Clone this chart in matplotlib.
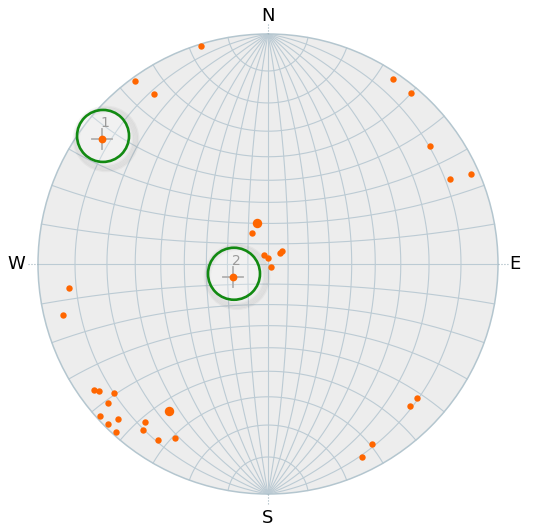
import numpy as np
import matplotlib
matplotlib.use("Agg")
import matplotlib.pyplot as plt
from matplotlib.patches import Circle

# Poles (lower hemisphere, equal-angle / Wulff net)
TREND = [343, 324, 326, 34, 40, 54, 65, 66,
         333, 336, 0, 135, 47, 47,
         263, 256,
         234, 233, 230, 229, 228, 224, 225, 222, 218, 217, 212, 208,
         132, 135, 150, 154]
PLUNGE = [0.6, 0.8, 6.7, 1.8, 1.8, 7.9, 7.8, 1.9,
          72.7, 85.1, 87.0, 87.9, 81.9, 80.5,
          7.9, 4.9,
          3.9, 4.8, 7.7, 4.7, 0.9, 3.7, 0.9, 0.9, 7.9, 5.8, 5.8, 8.7,
          7.8, 7.8, 5.7, 4.0]

# bigger symbols
BIG_TREND = [345, 214]
BIG_PLUNGE = [69.1, 14.8]

# mean / cluster centres
MEAN_TREND = [307, 250]
MEAN_PLUNGE = [5.8, 71.6]
MEAN_LABELS = ["1", "2"]

# ── layout in pixels ──
W, H = 538, 532
CX, CY, R = 268, 264, 230

GRID = "#bccbd4"
ORANGE = "#ff6600"


def proj(x, y, z):
    """equal-angle projection of a lower hemisphere unit vector -> pixels"""
    x, y, z = np.asarray(x), np.asarray(y), np.asarray(z)
    px = CX + R * x / (1 + z)
    py = CY - R * y / (1 + z)
    return px, py


def proj_tp(trend, plunge):
    t = np.radians(trend)
    p = np.radians(plunge)
    return proj(np.cos(p) * np.sin(t), np.cos(p) * np.cos(t), np.sin(p))


fig = plt.figure(figsize=(W / 100, H / 100), dpi=100)
ax = fig.add_axes([0, 0, 1, 1])
ax.set_xlim(0, W)
ax.set_ylim(H, 0)
ax.axis("off")

# net background
ax.add_patch(Circle((CX, CY), R, facecolor="#ededed", edgecolor="none", zorder=0))

# great circles through N-S
phi = np.radians(np.linspace(-90, 90, 361))
for lam in range(-80, 90, 10):
    l = np.radians(lam)
    px, py = proj(np.cos(phi) * np.sin(l), np.sin(phi), np.cos(phi) * np.cos(l))
    ax.plot(px, py, color=GRID, lw=0.8, zorder=1)

# small circles about N-S axis
lam = np.radians(np.linspace(-90, 90, 361))
for lat in range(-80, 90, 10):
    f = np.radians(lat)
    px, py = proj(np.cos(f) * np.sin(lam), np.full_like(lam, np.sin(f)), np.cos(f) * np.cos(lam))
    ax.plot(px, py, color=GRID, lw=0.8, zorder=1)

# primitive
ax.add_patch(Circle((CX, CY), R, facecolor="none", edgecolor="#b4c6cf", lw=1.1, zorder=2))

# compass labels + dotted ticks
ax.plot([CX, CX], [CY - R - 10, CY - R], color="#9fb3bd", lw=0.8, ls=":", zorder=2)
ax.plot([CX, CX], [CY + R, CY + R + 10], color="#9fb3bd", lw=0.8, ls=":", zorder=2)
ax.plot([CX - R - 10, CX - R], [CY, CY], color="#9fb3bd", lw=0.8, ls=":", zorder=2)
ax.plot([CX + R, CX + R + 10], [CY, CY], color="#9fb3bd", lw=0.8, ls=":", zorder=2)
for lab, x, y in [("N", CX, CY - R - 18), ("S", CX, CY + R + 24),
                  ("W", CX - R - 22, CY), ("E", CX + R + 17, CY)]:
    ax.text(x, y, lab, ha="center", va="center", fontsize=13, color="black")

# data points
px, py = proj_tp(TREND, PLUNGE)
ax.plot(px, py, "o", color=ORANGE, ms=4.6, mec="none", zorder=5)
bx, by = proj_tp(BIG_TREND, BIG_PLUNGE)
ax.plot(bx, by, "o", color=ORANGE, ms=6.8, mec="none", zorder=5)

# mean points with crosshair, ring and label
mx, my = proj_tp(MEAN_TREND, MEAN_PLUNGE)
for x, y, lab in zip(mx, my, MEAN_LABELS):
    ccx, ccy = x + 1, y - 3
    for k, a in enumerate([0.05, 0.05, 0.05, 0.06, 0.06]):
        ax.add_patch(Circle((ccx + 3, ccy + 3), 27 + k * 1.3, facecolor="none",
                            edgecolor="#555555", lw=1.6, alpha=a, zorder=6))
    ax.add_patch(Circle((ccx, ccy), 26, facecolor="white", alpha=0.25,
                        edgecolor="none", zorder=6))
    ax.add_patch(Circle((ccx, ccy), 26, facecolor="none", edgecolor="#128a12",
                        lw=1.9, zorder=8))
    ax.plot([x - 10, x + 10], [y, y], color="#b0b0b0", lw=1.3, zorder=7)
    ax.plot([x, x], [y - 10, y + 10], color="#b0b0b0", lw=1.3, zorder=7)
    ax.plot(x, y, "o", color=ORANGE, ms=5.6, mec="none", zorder=7)
    ax.text(x + 3, y - 16, lab, ha="center", va="center", fontsize=10,
            color="#9a9a9a", zorder=7)

fig.savefig("out.png", dpi=100)
